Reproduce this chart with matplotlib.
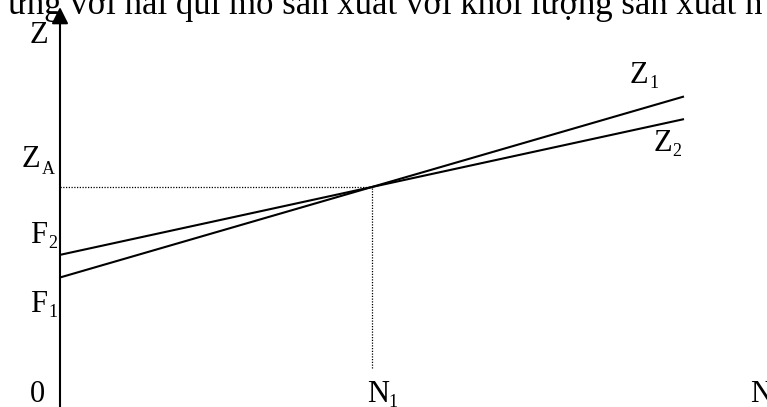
import matplotlib
matplotlib.use("Agg")
import matplotlib.pyplot as plt

# ---------------------------------------------------------------
# data (đơn vị tuỳ ý: N1 = 1, Z_A = 1)
# ---------------------------------------------------------------
n_range = [0.0, 2.0]          # khoảng vẽ của hai đường Z1, Z2
z1_line = [0.5, 1.5]          # Z1 = F1 + v1*N
z2_line = [0.625, 1.375]      # Z2 = F2 + v2*N
N1 = 1.0
Z_A = 1.0

TITLE = "ứng với hai qui mô sản xuất với khối lượng sản xuất n"

SERIF = ["Liberation Serif", "DejaVu Serif"]

fig = plt.figure(figsize=(7.67, 4.07), dpi=100)
ax = fig.add_axes([0, 0, 1, 1])
ax.set_xlim(-0.1923, 2.266)
ax.set_ylim(-0.2155, 2.033)
ax.axis("off")

# trục toạ độ có mũi tên
arrow = dict(arrowstyle="-|>,head_length=1.0,head_width=0.5",
             color="black", lw=1.5, mutation_scale=10, shrinkA=0, shrinkB=0)
ax.annotate("", xy=(0, 1.994), xytext=(0, -0.25), arrowprops=arrow)
ax.annotate("", xy=(2.30, 0), xytext=(-0.16, 0), arrowprops=arrow)

# hai đường chi phí
ax.plot(n_range, z1_line, color="black", lw=1.5, solid_capstyle="butt")
ax.plot(n_range, z2_line, color="black", lw=1.5, solid_capstyle="butt")

# đường chấm tại điểm hoà vốn
ax.plot([0, N1], [Z_A, Z_A], color="black", lw=0.9, ls=(0, (1, 1.2)))
ax.plot([N1, N1], [0, Z_A], color="black", lw=0.9, ls=(0, (1, 1.2)))


def label(x, y, main, sub=None, dx=0.0, dy=-0.028, size=22):
    ax.text(x, y, main, fontsize=size, family=SERIF, va="baseline", ha="left")
    if sub is not None:
        ax.text(x + dx, y + dy, sub, fontsize=13, family=SERIF,
                va="baseline", ha="left")


label(-0.096, 1.796, "Z")
label(-0.122, 1.110, "Z", "A", dx=0.064, dy=-0.036)
label(-0.096, 0.691, "F", "2", dx=0.058)
label(-0.096, 0.309, "F", "1", dx=0.058)
label(1.827, 1.575, "Z", "1", dx=0.061)
label(1.901, 1.199, "Z", "2", dx=0.061)
label(0.984, -0.188, "N", "1", dx=0.067)
label(2.212, -0.188, "N")
label(-0.096, -0.188, "0")

ax.text(-0.1667, 1.956, TITLE, fontsize=25, family=SERIF, va="baseline",
        ha="left")

fig.savefig("out.png", dpi=100)
